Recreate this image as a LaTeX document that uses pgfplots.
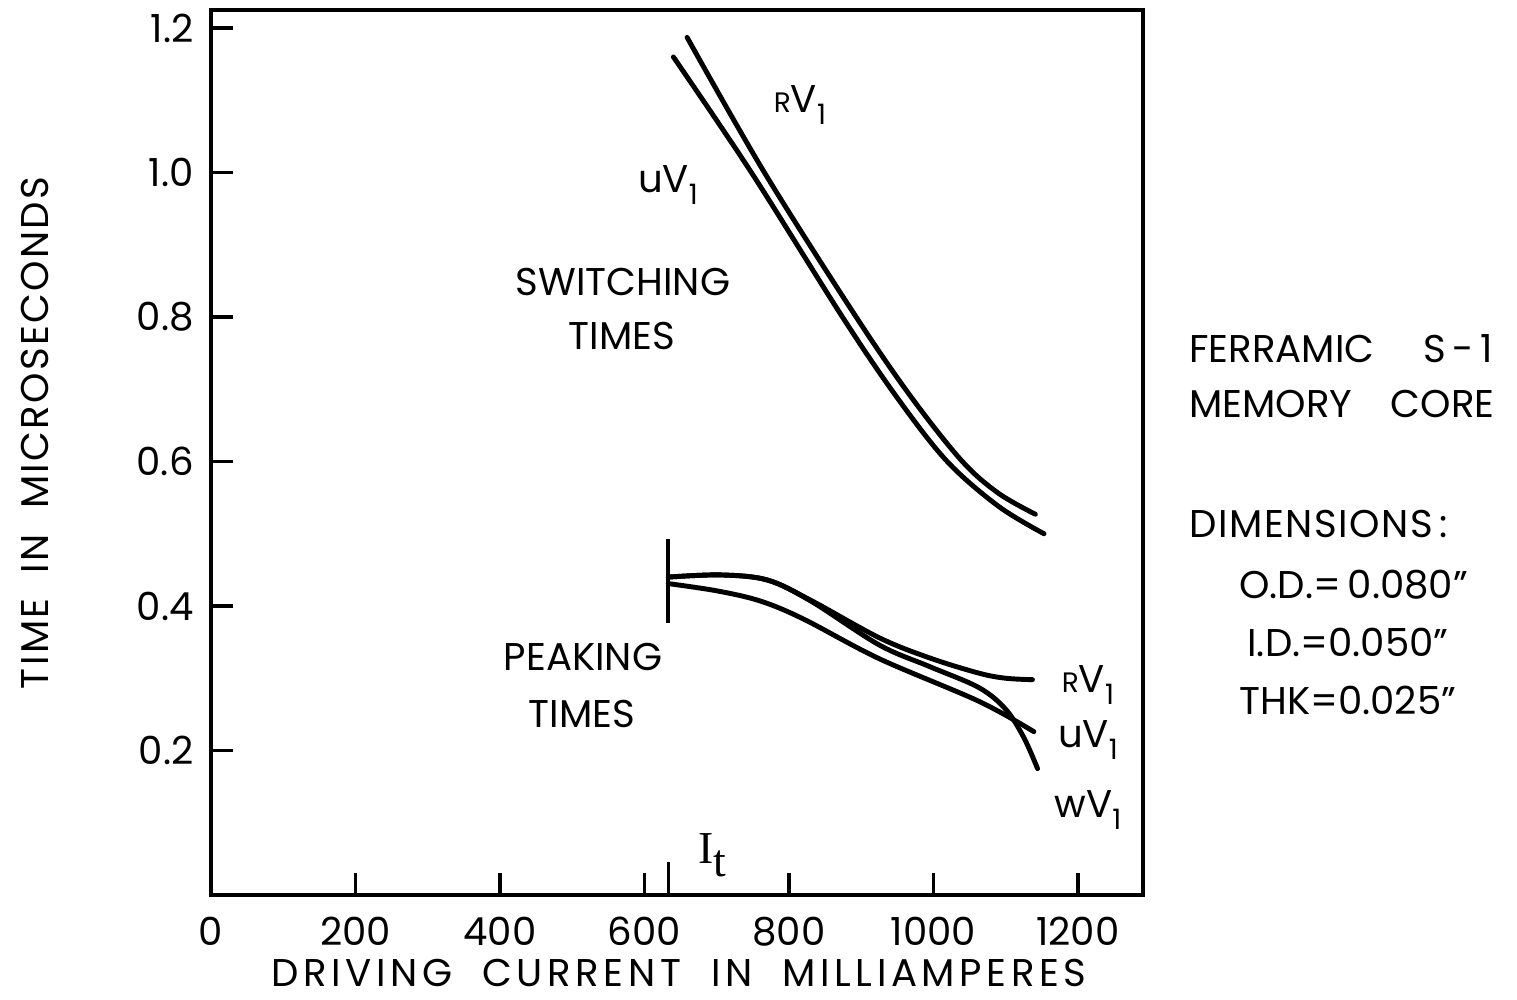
\documentclass[border=0pt]{standalone}
\usepackage[no-math]{fontspec}
\setmainfont{Poppins}
\newfontfamily\seriffont{Liberation Serif}
\newfontfamily\wideA[LetterSpace=12]{Poppins}
\newfontfamily\wideB[LetterSpace=6]{Poppins}
\newfontfamily\wideC[LetterSpace=4]{Poppins}
\usepackage{pgfplots}
\pgfplotsset{compat=1.18}
\newcommand{\Vsub}{V\raisebox{-0.55ex}{\footnotesize 1}}
\newcommand{\smR}{{\fontsize{8}{9}\selectfont R}}
\begin{document}
\begin{tikzpicture}[x=1cm,y=1cm,font=\fontsize{11}{13}\selectfont]
\path[use as bounding box] (0,0) rectangle (15.17,10);
\begin{axis}[
  at={(2.11cm,1.05cm)}, anchor=south west,
  scale only axis, width=9.32cm, height=8.85cm,
  xmin=0, xmax=1290, ymin=0, ymax=1.225,
  axis line style={line width=1.2pt},
  xtick={0,200,400,600,800,1000,1200},
  xticklabels={0,200,400,600,800,1000,1200},
  ytick={0.2,0.4,0.6,0.8,1.0,1.2},
  yticklabels={0.2,0.4,0.6,0.8,1.0,1.2},
  xtick pos=bottom, ytick pos=left,
  tick align=inside,
  major tick length=0.22cm,
  major tick style={line width=1pt, black},
  xticklabel style={yshift=-0.1cm},
  yticklabel style={xshift=-0.05cm},
  tick label style={font=\fontsize{11}{13}\selectfont},
  clip=false,
]
% switching times
\addplot[black, line width=1.4pt, smooth, tension=0.55, line cap=round] coordinates {
 (659,1.187) (766,1.0) (893,0.8) (970,0.688) (1040,0.600) (1090,0.556) (1141,0.527)};
\addplot[black, line width=1.4pt, smooth, tension=0.55, line cap=round] coordinates {
 (640,1.160) (748,1.0) (874,0.8) (950,0.688) (1019,0.6) (1090,0.538) (1153,0.500)};
% peaking times
\addplot[black, line width=1.4pt, smooth, tension=0.55, line cap=round] coordinates {
 (633,0.440) (705,0.443) (770,0.436) (830,0.408) (925,0.356) (995,0.328) (1063,0.307) (1100,0.300) (1137,0.298)};
\addplot[black, line width=1.4pt, smooth, tension=0.55, line cap=round] coordinates {
 (633,0.440) (705,0.443) (770,0.436) (830,0.407) (925,0.346) (995,0.316) (1063,0.287) (1100,0.257) (1125,0.218) (1144,0.175)};
\addplot[black, line width=1.4pt, smooth, tension=0.55, line cap=round] coordinates {
 (633,0.431) (700,0.421) (760,0.407) (820,0.382) (925,0.327) (1063,0.268) (1139,0.226)};
% threshold markers
\addplot[black, line width=1.1pt] coordinates {(633,0.376) (633,0.493)};
\addplot[black, line width=1pt] coordinates {(633,0) (633,0.046)};
\end{axis}
% labels inside
\node at (6.23,7.18) {SWITCHING};
\node at (6.22,6.64) {TIMES};
\node at (5.83,3.43) {PEAKING};
\node at (5.82,2.86) {TIMES};
\node at (8.00,8.95) {\smR\Vsub};
\node at (6.68,8.15) {u\Vsub};
\node at (10.88,3.15) {\smR\Vsub};
\node at (10.88,2.60) {u\Vsub};
\node at (10.88,1.90) {w\Vsub};
\node at (7.12,1.45) {\seriffont\fontsize{13}{15}\selectfont I\raisebox{-0.6ex}{t}};
% axis titles
\node[anchor=base, inner sep=0pt] at (6.79,0.13) {\wideA DRIVING\ \ CURRENT\ \ IN\ \ MILLIAMPERES};
\node[rotate=90] at (0.35,5.67) {\wideB TIME\ \ IN\ \ MICROSECONDS};
% side text
\node[anchor=west] at (11.77,6.51) {FERRAMIC\quad\ S\,-\,1};
\node[anchor=west] at (11.77,5.96) {MEMORY\quad CORE};
\node[anchor=west] at (11.77,4.76) {\wideC DIMENSIONS\,:};
\node[anchor=west] at (12.27,4.15) {O.D.=\,0.080"};
\node[anchor=west] at (12.35,3.58) {I.D.=0.050"};
\node[anchor=west] at (12.27,3.00) {THK=0.025"};
\end{tikzpicture}
\end{document}
